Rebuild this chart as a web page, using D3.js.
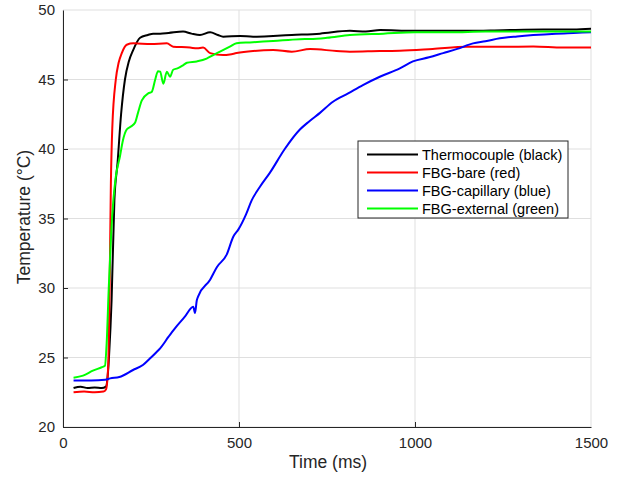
<!DOCTYPE html>
<html>
<head>
<meta charset="utf-8">
<script src="https://cdn.jsdelivr.net/npm/d3@7"></script>
<style>
  body { margin: 0; background: #fff; }
  svg { font-family: "Liberation Sans", Arial, sans-serif; }
</style>
</head>
<body>
<div id="chart"></div>
<script>
// series: [time ms, temperature °C]
let thermocouple = [
  [30,22.8],[50,22.9],[70,22.8],[90,22.85],[110,22.8],[122,22.9],[128,24],[131,25.2],[138,29.1],
  [146,36.3],[155,39.0],[165,42.5],[176,45.0],[187,46.3],[199,47.1],[219,48.0],[241,48.2],
  [256,48.3],[276,48.3],[300,48.35],[341,48.45],[365,48.3],[389,48.2],[418,48.4],[440,48.2],
  [455,48.08],[503,48.13],[540,48.08],[597,48.13],[650,48.2],[730,48.3],[815,48.5],[860,48.45],
  [901,48.56],[994,48.5],[1050,48.5],[1148,48.5],[1250,48.55],[1364,48.6],[1450,48.6],[1500,48.65]
];
let fbgBare = [
  [30,22.5],[60,22.55],[90,22.5],[115,22.55],[122,22.7],[124,22.9],[129,24.8],[132,29.1],
  [136,37.5],[140,41.5],[150,45.0],[158,46.2],[167,46.9],[181,47.5],[200,47.6],[250,47.55],
  [295,47.6],[313,47.36],[361,47.3],[381,47.24],[398,47.3],[418,46.9],[455,46.76],[474,46.8],
  [493,46.9],[540,47.05],[597,47.12],[650,47.0],[702,47.19],[777,47.05],[815,47.0],[900,47.05],
  [957,47.07],[1050,47.2],[1148,47.36],[1250,47.35],[1336,47.38],[1420,47.3],[1500,47.3]
];
let fbgCapillary = [
  [30,23.35],[80,23.35],[120,23.4],[134,23.5],[160,23.6],[199,24.1],[227,24.46],[250,25.0],
  [266,25.4],[276,25.66],[300,26.5],[318,27.1],[345,27.9],[370,28.65],[375,28.2],[380,29.1],
  [384,29.4],[418,30.6],[437,31.5],[465,32.4],[484,33.7],[498,34.2],[520,35.3],[536,36.3],
  [560,37.3],[588,38.3],[630,40.0],[673,41.4],[700,42.0],[730,42.6],[767,43.4],[810,44.0],
  [852,44.6],[900,45.2],[957,45.8],[994,46.3],[1040,46.6],[1080,46.9],[1120,47.2],[1165,47.6],
  [1200,47.75],[1241,47.96],[1290,48.1],[1336,48.2],[1400,48.3],[1450,48.35],[1500,48.4]
];
let fbgExternal = [
  [30,23.55],[57,23.7],[85,24.05],[110,24.3],[119,24.4],[124,26],[130,30],[137,34],[143,36.3],
  [150,38],[162,39.5],[170,40.6],[181,41.4],[192,41.6],[205,41.9],[213,42.6],[224,43.5],
  [242,44.0],[252,44.1],[262,45.0],[270,45.6],[276,45.56],[285,44.7],[295,45.56],[304,45.2],
  [313,45.7],[325,45.8],[342,46.04],[352,46.2],[380,46.3],[408,46.5],[427,46.76],[446,47.0],
  [474,47.36],[493,47.6],[531,47.67],[597,47.77],[673,47.9],[702,47.91],[750,48.0],[815,48.2],
  [910,48.3],[1000,48.4],[1100,48.4],[1200,48.45],[1300,48.45],[1400,48.45],[1500,48.45]
];
let seriesNames = ["Thermocouple (black)", "FBG-bare (red)", "FBG-capillary (blue)", "FBG-external (green)"];
let seriesColors = ["#000000", "#ff0000", "#0000ff", "#00ff00"];
let xTicks = [0, 500, 1000, 1500];
let yTicks = [20, 25, 30, 35, 40, 45, 50];

let width = 629, height = 478;
let margin = {top: 10, right: 38, bottom: 51, left: 63};

let svg = d3.select('#chart').append('svg')
  .attr('width', width)
  .attr('height', height);

let x = d3.scaleLinear().domain([0, 1500]).range([margin.left, width - margin.right]);
let y = d3.scaleLinear().domain([20, 50]).range([height - margin.bottom, margin.top]);

// grid
let grid = svg.append('g').attr('stroke', '#dfdfdf').attr('stroke-width', 1);
xTicks.forEach(function(t) {
  grid.append('line').attr('x1', x(t)).attr('x2', x(t)).attr('y1', y(20)).attr('y2', y(50));
});
yTicks.forEach(function(t) {
  grid.append('line').attr('x1', x(0)).attr('x2', x(1500)).attr('y1', y(t)).attr('y2', y(t));
});

// axes (ticks pointing inward)
let xAxis = svg.append('g')
  .attr('transform', 'translate(0,' + y(20) + ')')
  .call(d3.axisBottom(x).tickValues(xTicks).tickFormat(d3.format('d'))
    .tickSizeInner(-5).tickSizeOuter(0).tickPadding(10));
let yAxis = svg.append('g')
  .attr('transform', 'translate(' + x(0) + ',0)')
  .call(d3.axisLeft(y).tickValues(yTicks).tickFormat(d3.format('d'))
    .tickSizeInner(-5).tickSizeOuter(0).tickPadding(8));

[xAxis, yAxis].forEach(function(a) {
  a.select('.domain').attr('stroke', '#262626').attr('stroke-width', 1);
  a.selectAll('.tick line').attr('stroke', '#262626');
  a.selectAll('.tick text').attr('fill', '#262626').attr('font-size', 15)
    .attr('font-family', '"Liberation Sans", Arial, sans-serif');
});
yAxis.selectAll('.tick').filter(function(d) { return d === 50; }).select('line').remove();
xAxis.selectAll('.tick').filter(function(d) { return d === 1500; }).select('line').remove();

// lines
let line = d3.line()
  .curve(d3.curveMonotoneX)
  .x(function(d) { return x(d[0]); })
  .y(function(d) { return y(d[1]); });

let allSeries = [thermocouple, fbgBare, fbgCapillary, fbgExternal];
// draw order: black, red, blue, green on top
svg.append('g').selectAll('path')
  .data(allSeries)
  .enter()
  .append('path')
  .attr('d', line)
  .attr('fill', 'none')
  .attr('stroke', function(d, i) { return seriesColors[i]; })
  .attr('stroke-width', 2)
  .attr('stroke-linejoin', 'round');

// axis labels
svg.append('text')
  .attr('x', 328).attr('y', 468)
  .attr('text-anchor', 'middle')
  .attr('font-size', 17.5)
  .attr('fill', '#262626')
  .text('Time (ms)');

svg.append('text')
  .attr('transform', 'translate(30,' + 217 + ') rotate(-90)')
  .attr('text-anchor', 'middle')
  .attr('font-size', 17.5)
  .attr('fill', '#262626')
  .text('Temperature (°C)');

// legend
let legend = svg.append('g').attr('transform', 'translate(358,141)');
legend.append('rect')
  .attr('width', 210).attr('height', 77)
  .attr('fill', '#fff').attr('stroke', '#262626').attr('stroke-width', 1);
let items = legend.selectAll('g.item')
  .data(seriesNames)
  .enter()
  .append('g')
  .attr('class', 'item')
  .attr('transform', function(d, i) { return 'translate(0,' + (13.5 + i * 18) + ')'; });
items.append('line')
  .attr('x1', 9).attr('x2', 60)
  .attr('stroke', function(d, i) { return seriesColors[i]; })
  .attr('stroke-width', 2);
items.append('text')
  .attr('x', 64).attr('y', 5)
  .attr('font-size', 14.5)
  .attr('fill', '#000')
  .text(function(d) { return d; });
</script>
</body>
</html>
